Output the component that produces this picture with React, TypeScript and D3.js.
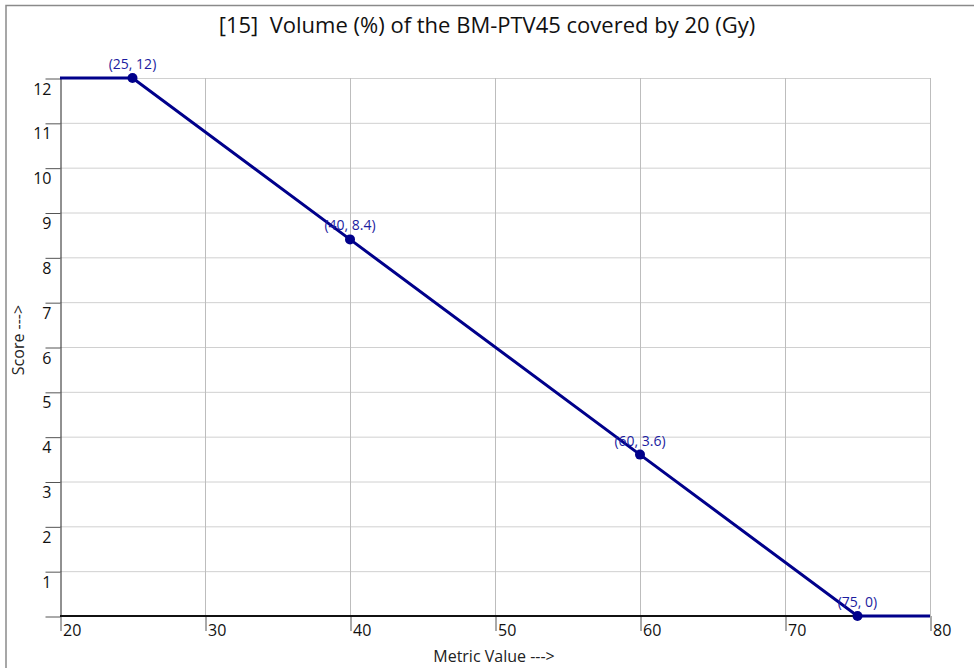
import React, { useRef, useEffect } from 'react';
import * as d3 from 'd3';

// data
const metricValues = [20, 25, 40, 60, 75, 80];
const scores = [12, 12, 8.4, 3.6, 0, 0];
const markedPoints = [1, 2, 3, 4]; // indices that get a dot + label
const xTicks = [20, 30, 40, 50, 60, 70, 80];
const yTicks = [0, 1, 2, 3, 4, 5, 6, 7, 8, 9, 10, 11, 12];
const title = '[15]  Volume (%) of the BM-PTV45 covered by 20 (Gy)';
const xTitle = 'Metric Value --->';
const yTitle = 'Score --->';

const FONT = '"Open Sans", "Noto Sans", sans-serif';

const App: React.FC = () => {
  const svgRef = useRef<SVGSVGElement>(null);
  const width = 974;
  const height = 668;

  useEffect(() => {
    if (!svgRef.current) return;
    document.body.style.margin = '0';

    const svg = d3.select(svgRef.current);
    svg.selectAll('*').remove();

    const margin = { top: 78, right: 44, bottom: 52, left: 60 };
    const innerWidth = width - margin.left - margin.right;
    const innerHeight = height - margin.top - margin.bottom;

    // outer frame
    svg
      .append('rect')
      .attr('x', 6)
      .attr('y', 5.5)
      .attr('width', width + 10)
      .attr('height', height + 10)
      .attr('fill', 'white')
      .attr('stroke', '#8a8a8a')
      .attr('stroke-width', 1.5);

    svg
      .append('text')
      .attr('x', 487)
      .attr('y', 33)
      .attr('text-anchor', 'middle')
      .style('font-family', FONT)
      .style('font-size', '22px')
      .style('fill', '#111')
      .style('white-space', 'pre')
      .text(title);

    const g = svg.append('g').attr('transform', `translate(${margin.left},${margin.top})`);

    const xScale = d3.scaleLinear().domain([20, 80]).range([0, innerWidth]);
    const yScale = d3.scaleLinear().domain([0, 12]).range([innerHeight, 0]);

    // grid
    g.append('g')
      .selectAll('line')
      .data(yTicks.filter((d) => d > 0))
      .enter()
      .append('line')
      .attr('x1', 0)
      .attr('x2', innerWidth)
      .attr('y1', (d) => yScale(d) + 0.5)
      .attr('y2', (d) => yScale(d) + 0.5)
      .attr('stroke', '#d0d0d0');

    g.append('g')
      .selectAll('line')
      .data(xTicks.filter((d) => d > 20))
      .enter()
      .append('line')
      .attr('x1', (d) => xScale(d) + 0.5)
      .attr('x2', (d) => xScale(d) + 0.5)
      .attr('y1', 0)
      .attr('y2', innerHeight)
      .attr('stroke', '#bdbdbd');

    // y axis: ticks out to the left, labels hang below the tick
    const yAxis = g
      .append('g')
      .attr('transform', 'translate(0.5,0)')
      .call(d3.axisLeft(yScale).tickValues(yTicks).tickSize(15).tickSizeOuter(0).tickFormat((d) => (d === 0 ? '' : `${d}`)));
    yAxis.select('.domain').attr('stroke', '#222');
    yAxis.selectAll('.tick line').attr('stroke', '#555').attr('transform', 'translate(0,0.5)');
    yAxis
      .selectAll('.tick text')
      .attr('x', -9)
      .attr('dy', '1.0em')
      .attr('font-size', 16)
      .style('font-family', FONT)
      .style('font-size', '16px')
      .style('fill', '#111');

    // x axis: ticks down, labels to the right of the tick
    const xAxis = g
      .append('g')
      .attr('transform', `translate(0.5,${innerHeight})`)
      .call(d3.axisBottom(xScale).tickValues(xTicks).tickSize(15).tickSizeOuter(0));
    xAxis.select('.domain').remove();
    xAxis.selectAll('.tick line').attr('stroke', '#555');
    xAxis
      .selectAll('.tick text')
      .attr('y', 6)
      .attr('x', 2)
      .attr('dy', '0.9em')
      .attr('font-size', 16)
      .style('text-anchor', 'start')
      .style('font-family', FONT)
      .style('font-size', '16px')
      .style('fill', '#111');

    g.append('line')
      .attr('x1', 0)
      .attr('x2', innerWidth)
      .attr('y1', innerHeight)
      .attr('y2', innerHeight)
      .attr('stroke', '#111')
      .attr('stroke-width', 2);

    // axis titles
    svg
      .append('text')
      .attr('x', 494)
      .attr('y', 662)
      .attr('text-anchor', 'middle')
      .style('font-family', FONT)
      .style('font-size', '16px')
      .style('fill', '#222')
      .text(xTitle);

    svg
      .append('text')
      .attr('transform', 'translate(24,340) rotate(-90)')
      .attr('text-anchor', 'middle')
      .style('font-family', FONT)
      .style('font-size', '16px')
      .style('fill', '#222')
      .text(yTitle);

    // series
    const line = d3
      .line<number>()
      .x((_, i) => xScale(metricValues[i]))
      .y((d) => yScale(d));

    g.append('path')
      .datum(scores)
      .attr('d', line)
      .attr('fill', 'none')
      .attr('stroke', '#00008b')
      .attr('stroke-width', 3);

    g.selectAll('.dot')
      .data(markedPoints)
      .enter()
      .append('circle')
      .attr('class', 'dot')
      .attr('cx', (i) => xScale(metricValues[i]))
      .attr('cy', (i) => yScale(scores[i]))
      .attr('r', 5)
      .attr('fill', '#00008b');

    g.selectAll('.lbl')
      .data(markedPoints)
      .enter()
      .append('text')
      .attr('class', 'lbl')
      .attr('x', (i) => xScale(metricValues[i]))
      .attr('y', (i) => yScale(scores[i]) - 9)
      .attr('text-anchor', 'middle')
      .style('font-family', FONT)
      .style('font-size', '14px')
      .style('fill', '#1c1ca0')
      .text((i) => `(${metricValues[i]}, ${scores[i]})`);
  }, []);

  return (
    <svg
      ref={svgRef}
      width={width}
      height={height}
      style={{ position: 'absolute', left: 0, top: 0, display: 'block' }}
    />
  );
};

export default App;
